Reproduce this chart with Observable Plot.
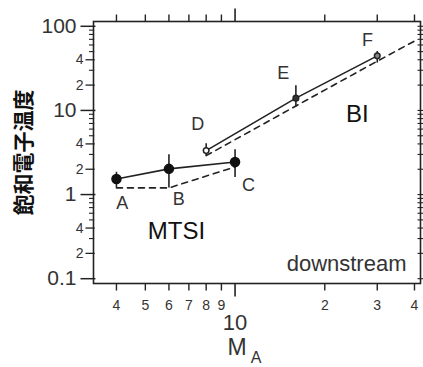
<!DOCTYPE html>
<html>
<head>
<meta charset="utf-8">
<script src="https://cdn.jsdelivr.net/npm/d3@7"></script>
<script src="https://cdn.jsdelivr.net/npm/@observablehq/plot@0.6"></script>
<style>
  html, body { margin: 0; padding: 0; background: #fff; }
  #chart svg { display: block; }
</style>
</head>
<body>
<div id="chart"></div>
<script>
// ---- data ----
const mtsiM  = [4, 6, 10];
const mtsiTe = [1.53, 2.02, 2.44];
const mtsiLo = [1.20, 1.20, 1.59];
const mtsiHi = [1.84, 2.98, 3.42];
const mtsiDashM  = [4, 6, 10];
const mtsiDashTe = [1.20, 1.20, 2.13];

const biM  = [8, 16, 30];
const biTe = [3.33, 14.0, 44.5];
const biLo = [2.85, 11.0, 36.5];
const biHi = [4.03, 19.6, 50.1];
const biFill = ["white", "#333", "#888"];
const biDashM  = [8, 16, 30, 40.7];
const biDashTe = [2.90, 11.3, 38.5, 69.0];

const pointNames = ["A", "B", "C", "D", "E", "F"];
const nameM  = [4.18, 6.47, 11.1, 7.50, 14.5, 27.8];
const nameTe = [0.797, 0.872, 1.279, 6.77, 27.3, 67.7];

const regimeNames = ["MTSI", "BI"];
const regimeM  = [6.36, 25.7];
const regimeTe = [0.367, 8.89];

const yMajorTicks = [0.1, 1, 10, 100];
const yMajorLabels = ["0.1", "1", "10", "100"];
const yLabeledMinor = [0.2, 0.4, 2, 4, 20, 40];
const yLabeledMinorLabels = ["2", "4", "2", "4", "2", "4"];
const yMinorTicks = [0.3,0.5,0.6,0.7,0.8,0.9,3,5,6,7,8,9,30,50,60,70,80,90];
const xTicks = [4, 5, 6, 7, 8, 9, 20, 30, 40];
const xTickLabels = ["4", "5", "6", "7", "8", "9", "2", "3", "4"];
const xDecade = [10];
const xDecadeLabels = ["10"];

const yTitle = "飽和電子温度";
const xTitle = "M";
const xTitleSub = "A";
const cornerNote = "downstream";

// ---- build tables ----
const mtsi = mtsiM.map((m, i) => ({m, te: mtsiTe[i], lo: mtsiLo[i], hi: mtsiHi[i]}));
const mtsiDash = mtsiDashM.map((m, i) => ({m, te: mtsiDashTe[i]}));
const bi = biM.map((m, i) => ({m, te: biTe[i], lo: biLo[i], hi: biHi[i], fill: biFill[i]}));
const biDash = biDashM.map((m, i) => ({m, te: biDashTe[i]}));
const names = pointNames.map((t, i) => ({t, m: nameM[i], te: nameTe[i]}));
const regimes = regimeNames.map((t, i) => ({t, m: regimeM[i], te: regimeTe[i]}));
const yMajor = yMajorTicks.map((v, i) => ({v, t: yMajorLabels[i]}));
const yLab = yLabeledMinor.map((v, i) => ({v, t: yLabeledMinorLabels[i]}));
const xLab = xTicks.map((v, i) => ({v, t: xTickLabels[i]}));
const xDec = xDecade.map((v, i) => ({v, t: xDecadeLabels[i]}));
const yAll = [...yMajorTicks, ...yLabeledMinor, ...yMinorTicks];

// tick-mark symbols: a line segment whose length follows r (size = r²π)
const seg = (x0, y0, x1, y1) => ({
  draw(ctx, size) {
    const L = Math.sqrt(size / Math.PI);
    ctx.moveTo(x0 * L, y0 * L);
    ctx.lineTo(x1 * L, y1 * L);
  }
});
const tickLeft  = seg(0.15, 0, -1, 0);
const tickRight = seg(-0.6, 0, 0.6, 0);
const tickDown  = seg(0, 0, 0, 1);
const tickUp    = seg(0, 0, 0, -1);

const ink = "#222";
const font = "'Liberation Sans', Arial, Helvetica, sans-serif";
const tickOpts = {fill: "none", stroke: ink};

const chart = Plot.plot({
  width: 423,
  height: 367,
  marginLeft: 93,
  marginRight: 3,
  marginTop: 21,
  marginBottom: 84,
  style: {fontFamily: font, background: "#fff", color: ink},
  x: {type: "log", domain: [3.35, 41.9], axis: null},
  y: {type: "log", domain: [0.0877, 114], axis: null},
  marks: [
    // left axis ticks
    Plot.dot(yMajorTicks, {y: d => d, frameAnchor: "left", symbol: tickLeft, r: 13, strokeWidth: 1.5, ...tickOpts}),
    Plot.dot(yLabeledMinor, {y: d => d, frameAnchor: "left", symbol: tickLeft, r: 8, strokeWidth: 1.3, ...tickOpts}),
    Plot.dot(yMinorTicks, {y: d => d, frameAnchor: "left", symbol: tickLeft, r: 4.5, strokeWidth: 1.1, ...tickOpts}),
    // right axis ticks
    Plot.dot(yAll, {y: d => d, frameAnchor: "right", symbol: tickRight, r: 5, strokeWidth: 1.1, ...tickOpts}),
    // bottom / top ticks
    Plot.dot(xTicks, {x: d => d, frameAnchor: "bottom", symbol: tickDown, r: 7, strokeWidth: 1.4, ...tickOpts}),
    Plot.dot(xDecade, {x: d => d, frameAnchor: "bottom", symbol: tickDown, r: 13, strokeWidth: 1.6, ...tickOpts}),
    Plot.dot(xTicks, {x: d => d, frameAnchor: "top", symbol: tickUp, r: 7, strokeWidth: 1.4, ...tickOpts}),
    Plot.dot(xDecade, {x: d => d, frameAnchor: "top", symbol: tickUp, r: 13, strokeWidth: 1.6, ...tickOpts}),
    Plot.frame({stroke: ink, strokeWidth: 1.6}),

    // tick labels
    Plot.text(yMajor, {y: "v", text: "t", frameAnchor: "left", dx: -17, textAnchor: "end", lineAnchor: "middle", fontSize: 21, fill: "#333"}),
    Plot.text(yLab, {y: "v", text: "t", frameAnchor: "left", dx: -10, textAnchor: "end", lineAnchor: "middle", fontSize: 14, fill: "#333"}),
    Plot.text(xLab, {x: "v", text: "t", frameAnchor: "bottom", dy: 22, lineAnchor: "middle", fontSize: 14, fill: "#333"}),
    Plot.text(xDec, {x: "v", text: "t", frameAnchor: "bottom", dy: 39, lineAnchor: "middle", fontSize: 22, fill: "#333"}),

    // axis titles
    Plot.text([xTitle], {x: () => 10, frameAnchor: "bottom", dy: 64, dx: 2, lineAnchor: "middle", text: d => d, fontSize: 23, fill: "#333"}),
    Plot.text([xTitleSub], {x: () => 10, frameAnchor: "bottom", dy: 74, dx: 21, lineAnchor: "middle", text: d => d, fontSize: 16, fill: "#333"}),
    Plot.text([yTitle], {frameAnchor: "left", dx: -69, rotate: -90, textAnchor: "middle", lineAnchor: "middle",
      text: d => d, fontSize: 21, fontWeight: "bold",
      fontFamily: "'Noto Sans CJK JP', 'Noto Sans CJK SC', sans-serif", fill: "#111"}),

    // MTSI branch
    Plot.line(mtsiDash, {x: "m", y: "te", stroke: ink, strokeWidth: 1.6, strokeDasharray: "6,5"}),
    Plot.ruleX(mtsi, {x: "m", y1: "lo", y2: "hi", stroke: ink, strokeWidth: 1.6}),
    Plot.line(mtsi, {x: "m", y: "te", stroke: ink, strokeWidth: 1.6}),
    Plot.dot(mtsi, {x: "m", y: "te", r: 4.5, fill: "#111", stroke: "#111"}),

    // BI branch
    Plot.line(biDash, {x: "m", y: "te", stroke: ink, strokeWidth: 1.6, strokeDasharray: "6,5"}),
    Plot.ruleX(bi, {x: "m", y1: "lo", y2: "hi", stroke: ink, strokeWidth: 1.6}),
    Plot.line(bi, {x: "m", y: "te", stroke: ink, strokeWidth: 1.6}),
    Plot.dot(bi, {x: "m", y: "te", r: 2.8, fill: "fill", stroke: ink, strokeWidth: 1.5}),

    // annotations
    Plot.text(names, {x: "m", y: "te", text: "t", fontSize: 18, fill: "#333"}),
    Plot.text(regimes, {x: "m", y: "te", text: "t", fontSize: 24, fill: "#111"}),
    Plot.text([cornerNote], {frameAnchor: "bottom-right", dx: -14, dy: -20, lineAnchor: "middle", textAnchor: "end",
      text: d => d, fontSize: 22, fill: "#333"})
  ]
});
document.getElementById("chart").appendChild(chart);
</script>
</body>
</html>
